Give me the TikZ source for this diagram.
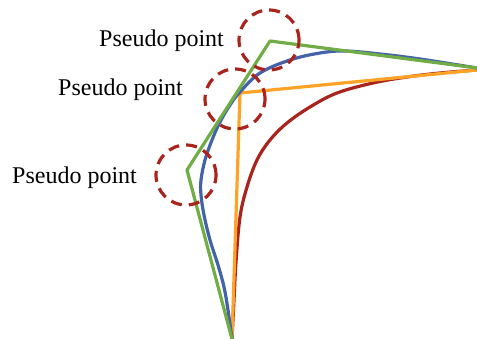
\documentclass[tikz,border=0pt]{standalone}
\usepackage{fontspec}
\setmainfont{Liberation Serif}
\definecolor{cgreen}{RGB}{112,173,71}
\definecolor{corange}{RGB}{255,163,38}
\definecolor{cblue}{RGB}{68,98,168}
\definecolor{cred}{RGB}{170,36,30}
\begin{document}
\begin{tikzpicture}[x=1pt,y=-1pt,
  curve/.style={line width=3.2pt,line join=round},
  pseudo/.style={draw=cred,line width=3.2pt,dash pattern=on 11pt off 7pt,circle,minimum size=60pt,inner sep=0pt},
  lbl/.style={anchor=base west,inner sep=0pt,font=\fontsize{24}{28}\selectfont}]
\useasboundingbox (0,0) rectangle (477,339);
% red hyperbola-like curve
\draw[curve,cred] plot[smooth,tension=0.6] coordinates {(232,339) (234,300) (236,262) (240,217) (247,187) (257,160) (270,140) (287,123) (310,107) (337,93) (373,83) (407,77) (440,73) (477,70)};
% orange polyline
\coordinate (ob) at (232,339);
\coordinate (oc) at (240,93);
\coordinate (oe) at (477,70);
\draw[curve,corange] (ob) -- (oc) -- (oe);
% blue curve
\draw[curve,cblue] plot[smooth,tension=0.6] coordinates {(232,339) (228,310) (224,287) (218,265) (210,240) (204,215) (201,195) (201,180) (205,160) (212,140) (220,122) (230,105) (240,92) (260,73) (290,60) (320,53) (345,51) (380,54) (420,59) (477,68)};
% green polyline
\coordinate (gb) at (232,339);
\coordinate (g1) at (187,170);
\coordinate (g2) at (270,41);
\coordinate (ge) at (477,68);
\draw[curve,cgreen] (gb) -- (g1) -- (g2) -- (ge);
% dashed circles
\node[pseudo] (c1) at (269,40) {};
\node[pseudo] (c2) at (235,99) {};
\node[pseudo] (c3) at (186,175) {};
% labels
\node[lbl] (l1) at (99,47) {Pseudo point};
\node[lbl] (l2) at (58,96) {Pseudo point};
\node[lbl] (l3) at (12,184) {Pseudo point};
\end{tikzpicture}
\end{document}
